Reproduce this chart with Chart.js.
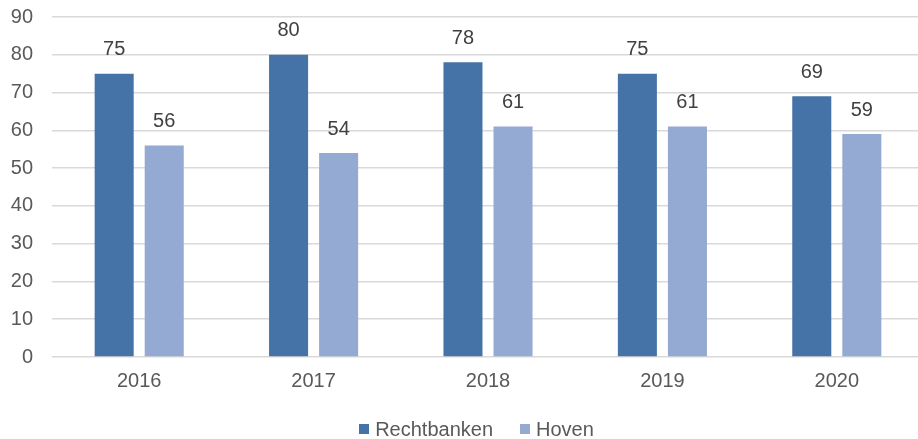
<!DOCTYPE html>
<html><head><meta charset="utf-8">
<script src="https://cdn.jsdelivr.net/npm/chart.js@4.4.1/dist/chart.umd.min.js"></script>
<style>
html,body{margin:0;padding:0;background:#fff;overflow:hidden;}
#wrap{position:relative;width:918px;height:439px;overflow:hidden;background:#fff;}
#c{position:absolute;left:0;top:0;}
#legend{position:absolute;top:417px;left:0;width:953px;height:24px;display:flex;justify-content:center;align-items:center;font-family:"Liberation Sans",Arial,sans-serif;font-size:20px;color:#595959;}
.item{display:flex;align-items:center;margin:0 13.5px;}
.sw{width:10px;height:10px;margin-right:6px;}
</style></head>
<body>
<div id="wrap"><canvas id="c" width="924" height="439"></canvas><div id="legend"></div></div>
<script>
const categories = ['2016','2017','2018','2019','2020'];
const rechtbanken = [75, 80, 78, 75, 69];
const hoven = [56, 54, 61, 61, 59];
const seriesNames = ['Rechtbanken','Hoven'];
const seriesColors = ['#4673A7','#95AAD2'];
const yTicks = [0,10,20,30,40,50,60,70,80,90];

const FONT = '"Liberation Sans", Arial, sans-serif';

const valueLabels = {
  id: 'valueLabels',
  afterDatasetsDraw(chart) {
    const ctx = chart.ctx;
    ctx.save();
    ctx.font = '20px ' + FONT;
    ctx.fillStyle = '#404040';
    ctx.textAlign = 'center';
    ctx.textBaseline = 'middle';
    chart.data.datasets.forEach((ds, i) => {
      chart.getDatasetMeta(i).data.forEach((bar, j) => {
        ctx.fillText(String(ds.data[j]), bar.x, bar.y - 24);
      });
    });
    ctx.restore();
  }
};

new Chart(document.getElementById('c'), {
  type: 'bar',
  data: {
    labels: categories,
    datasets: [
      { label: seriesNames[0], data: rechtbanken, backgroundColor: seriesColors[0], categoryPercentage: 0.574, barPercentage: 0.78 },
      { label: seriesNames[1], data: hoven, backgroundColor: seriesColors[1], categoryPercentage: 0.574, barPercentage: 0.78 }
    ]
  },
  options: {
    responsive: false,
    animation: false,
    layout: { padding: { top: 17, bottom: 0, left: 0, right: 0 } },
    plugins: { legend: { display: false }, tooltip: { enabled: false } },
    scales: {
      x: {
        grid: { display: false, drawTicks: false },
        border: { display: false },
        ticks: { color: '#595959', font: { family: FONT, size: 20 }, padding: 12 },
        afterFit(s) { s.height = 82; }
      },
      y: {
        min: 0, max: 90,
        afterBuildTicks(s) { s.ticks = yTicks.map(v => ({ value: v })); },
        grid: { color: '#D9D9D9', lineWidth: 1.5, drawTicks: true, tickLength: 19, tickColor: 'rgba(0,0,0,0)' },
        border: { display: false },
        ticks: { color: '#595959', font: { family: FONT, size: 20 }, padding: 0 },
        afterFit(s) { s.width = 52; }
      }
    }
  },
  plugins: [valueLabels]
});

const leg = document.getElementById('legend');
seriesNames.forEach((n, i) => {
  const it = document.createElement('div'); it.className = 'item';
  const sw = document.createElement('div'); sw.className = 'sw'; sw.style.background = seriesColors[i];
  const tx = document.createElement('span'); tx.textContent = n;
  it.appendChild(sw); it.appendChild(tx); leg.appendChild(it);
});
</script>
</body></html>
